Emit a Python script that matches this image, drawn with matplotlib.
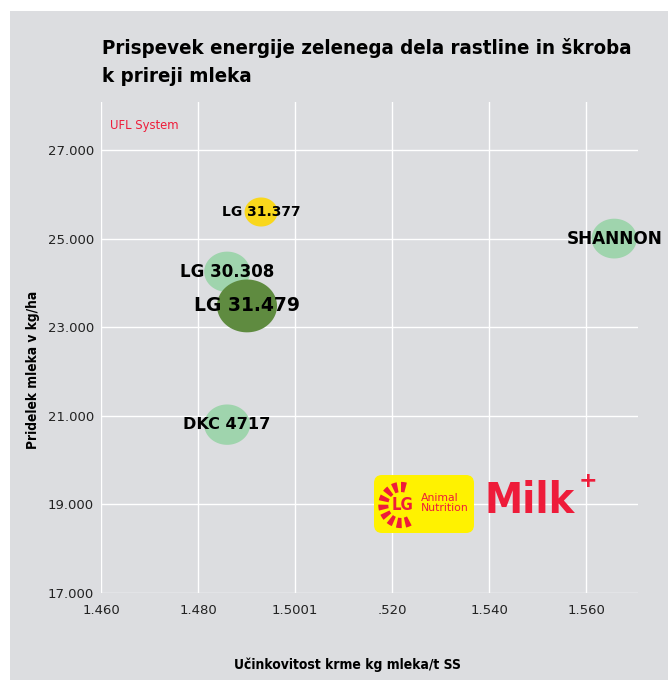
#bubble chart: energy contribution of green plant part and starch to milk production
import matplotlib
matplotlib.use('Agg')
import matplotlib.pyplot as plt
import numpy as np
from matplotlib.path import Path
from matplotlib.patches import Rectangle, FancyBboxPatch, Wedge

# data
hybrids = ['LG 31.377', 'LG 30.308', 'LG 31.479', 'DKC 4717', 'SHANNON']
efficiency = [1.4930, 1.4860, 1.4901, 1.4860, 1.5658]   # kg mleka/t SS
milk_yield = [25600, 24250, 23480, 20800, 25000]        # kg/ha
bubble = [1.0, 1.39, 1.82, 1.39, 1.37]                  # relative bubble size
colors = ['#f9d71c', '#9fd4ad', '#5f8b40', '#9fd4ad', '#9fd4ad']
label_size = [10, 12, 13.5, 11.6, 12.2]

xticks = [1.460, 1.480, 1.500, 1.520, 1.540, 1.560]
xtick_labels = ['1.460', '1.480', '1.5001', '.520', '1.540', '1.560']
yticks = [17000, 19000, 21000, 23000, 25000, 27000]
ytick_labels = ['17.000', '19.000', '21.000', '23.000', '25.000', '27.000']

W, H = 668, 680
bg = '#dcdde0'
red = '#ee1c3a'

def px(x, y):
    # image pixel -> figure fraction
    return x / W, 1 - y / H

fig = plt.figure(figsize=(W / 100, H / 100), dpi=100, facecolor='white')
fig.patches.append(Rectangle(px(10, 680), 1, 1 - 11 / H, transform=fig.transFigure,
                             facecolor=bg, edgecolor='none', zorder=-5))

l, b = px(101, 593)
ax = fig.add_axes([l, b, 537 / W, 491 / H])
ax.set_facecolor(bg)
for s in ax.spines.values():
    s.set_visible(False)

# elliptic marker (bubbles are slightly wider than tall)
t = np.linspace(0, 2 * np.pi, 80)
ell = Path(np.column_stack([np.cos(t), 0.88 * np.sin(t)]), closed=True)

base = 33  # px width of smallest bubble
for i in range(len(hybrids)):
    size = (base * bubble[i] * 0.72) ** 2
    ax.scatter(efficiency[i], milk_yield[i], s=size, marker=ell, color=colors[i],
               edgecolors='none', zorder=3)
    ax.text(efficiency[i], milk_yield[i], hybrids[i], ha='center', va='center',
            fontsize=label_size[i], fontweight='heavy', color='black', zorder=5)

ax.set_xlim(1.460, 1.5707)
ax.set_ylim(17000, 28083)
ax.set_xticks(xticks)
ax.set_xticklabels(xtick_labels)
ax.set_yticks(yticks)
ax.set_yticklabels(ytick_labels)
ax.tick_params(length=0, labelsize=9.5, labelcolor='#222222')
ax.tick_params(axis='x', pad=8)
ax.tick_params(axis='y', pad=5)
for lab in ax.get_yticklabels():
    lab.set_va('center_baseline')
ax.grid(True, color='white', linewidth=1.0)
ax.set_axisbelow(True)

renderer = fig.canvas.get_renderer()

def fit(txt, width_px):
    # shrink/grow a text so that it spans width_px pixels
    w = txt.get_window_extent(renderer).width
    txt.set_fontsize(txt.get_fontsize() * width_px / w)

# titles and labels
t1 = fig.text(*px(102, 48), 'Prispevek energije zelenega dela rastline in škroba',
              fontsize=16, fontweight='bold', fontstretch='condensed', va='center', ha='left')
fit(t1, 532)
fig.text(*px(102, 77), 'k prireji mleka', fontsize=t1.get_fontsize(), fontweight='bold',
         fontstretch='condensed', va='center', ha='left')
fig.text(*px(110, 125), 'UFL System', color=red, fontsize=8.4, va='center', ha='left')
yl = fig.text(*px(33, 370), 'Pridelek mleka v kg/ha', rotation=90, fontstretch='condensed',
              fontsize=10, fontweight='bold', va='center', ha='center')
yl.set_fontsize(10 * 159 / yl.get_window_extent(renderer).height)
xl = fig.text(*px(347, 665), 'Učinkovitost krme kg mleka/t SS', fontstretch='condensed',
              fontsize=10, fontweight='bold', va='center', ha='center')
fit(xl, 227)

# logo LG Animal Nutrition + Milk+
x0, y0 = px(374, 533)
fig.patches.append(FancyBboxPatch((x0, y0), 100 / W, 58 / H, transform=fig.transFigure,
                                  boxstyle='round,pad=0,rounding_size=0.012',
                                  facecolor='#fff200', edgecolor='none', zorder=4))
cx, cy = 401, 505
for a in range(75, 300, 26):
    fig.patches.append(Wedge(px(cx, cy), 0.034, a, a + 15, width=0.015,
                             transform=fig.transFigure, facecolor=red,
                             edgecolor='none', zorder=5))
fig.text(*px(cx + 2, cy), 'LG', color=red, fontsize=12, fontweight='bold',
         fontstretch='condensed', va='center', ha='center', zorder=6)
an = fig.text(*px(421, 503), 'Animal\nNutrition', color=red, fontsize=8,
              va='center', ha='left', linespacing=0.95, zorder=6)
fit(an, 48)
mk = fig.text(*px(484, 501), 'Milk', color=red, fontsize=26, fontweight='bold',
              fontstretch='condensed', va='center', ha='left', zorder=6)
fit(mk, 90)
fig.text(*px(588, 481), '+', color=red, fontsize=16, fontweight='bold',
         va='center', ha='center', zorder=6)

plt.savefig('out.png', dpi=100, facecolor='white')
